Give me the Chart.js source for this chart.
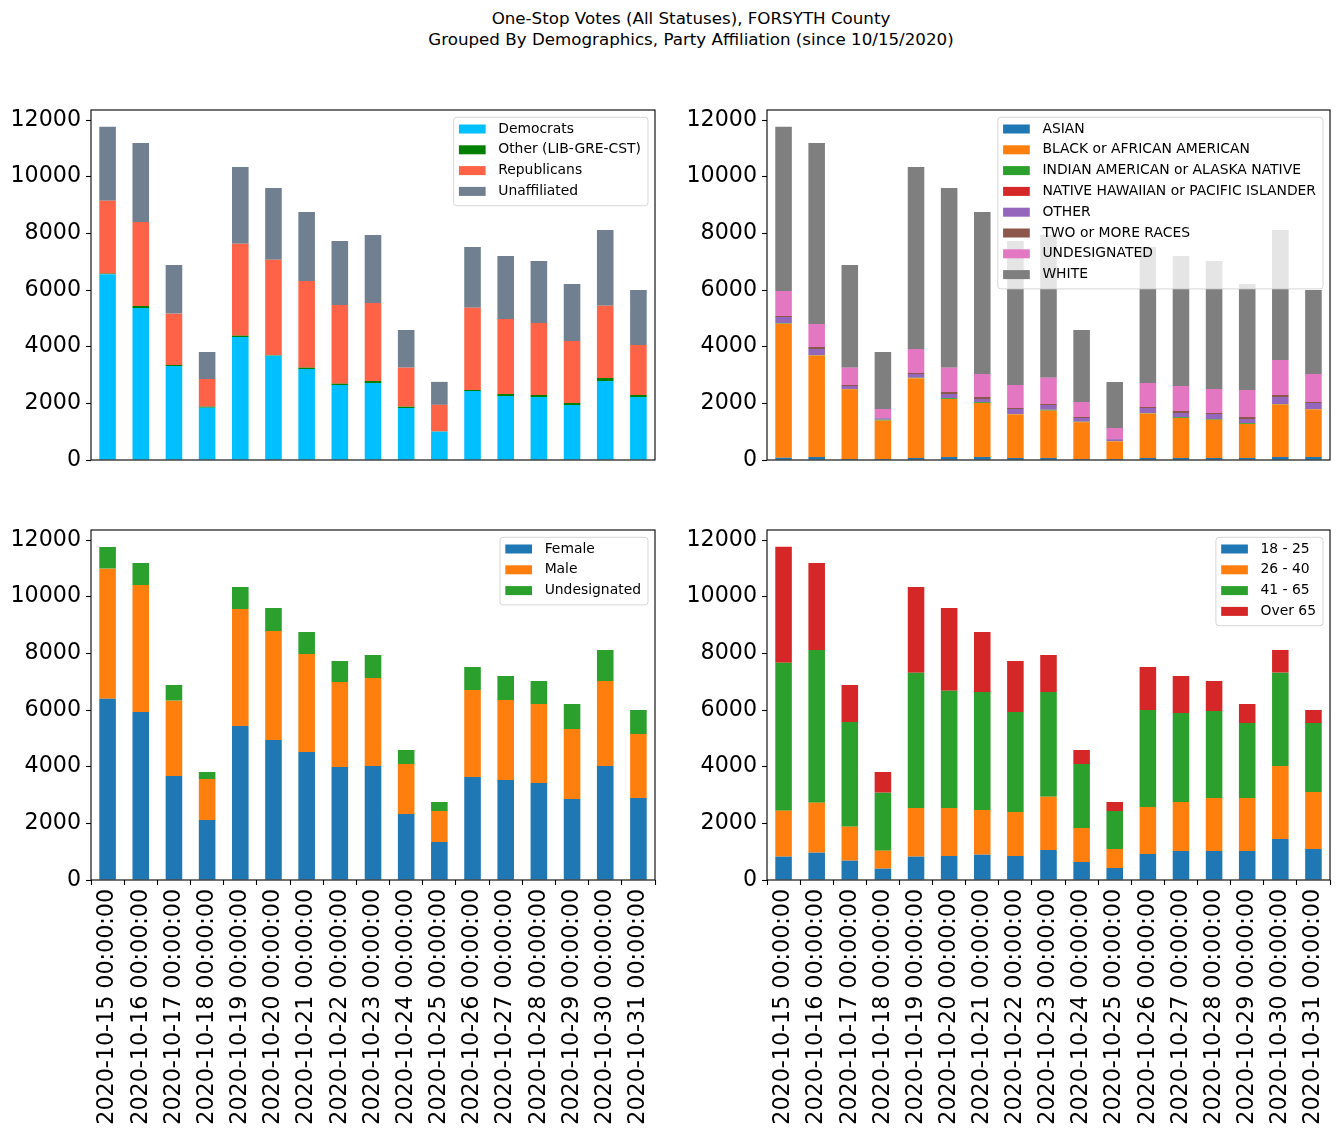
<!DOCTYPE html>
<html>
<head>
<meta charset="utf-8">
<script src="https://cdn.jsdelivr.net/npm/chart.js@4.4.0/dist/chart.umd.min.js"></script>
<style>
  body { margin: 0; background: #fff; width: 1340px; height: 1137px; position: relative; overflow: hidden; font-family: "DejaVu Sans", sans-serif; }
  #title { position: absolute; top: 8px; left: 21px; width: 1340px; text-align: center; font-size: 16.7px; line-height: 21px; color: #000; }
  canvas { position: absolute; }
</style>
</head>
<body>
<div id="title">One-Stop Votes (All Statuses), FORSYTH County<br>Grouped By Demographics, Party Affiliation (since 10/15/2020)</div>
<canvas id="party" width="670" height="370" style="left:0;top:100px"></canvas>
<canvas id="race" width="670" height="370" style="left:670px;top:100px"></canvas>
<canvas id="gender" width="670" height="617" style="left:0;top:520px"></canvas>
<canvas id="age" width="670" height="617" style="left:670px;top:520px"></canvas>
<script>
const days = [
  "2020-10-15 00:00:00", "2020-10-16 00:00:00", "2020-10-17 00:00:00", "2020-10-18 00:00:00",
  "2020-10-19 00:00:00", "2020-10-20 00:00:00", "2020-10-21 00:00:00", "2020-10-22 00:00:00",
  "2020-10-23 00:00:00", "2020-10-24 00:00:00", "2020-10-25 00:00:00", "2020-10-26 00:00:00",
  "2020-10-27 00:00:00", "2020-10-28 00:00:00", "2020-10-29 00:00:00", "2020-10-30 00:00:00",
  "2020-10-31 00:00:00"
];
const yTicks = [0, 2000, 4000, 6000, 8000, 10000, 12000];

// party affiliation
const democrats    = [6560, 5365, 3318, 1847, 4341, 3682, 3212, 2647, 2718, 1835, 1000, 2435, 2259, 2224, 1941, 2788, 2224];
const otherParty   = [17, 70, 35, 35, 47, 15, 47, 47, 70, 47, 5, 36, 70, 70, 71, 106, 70];
const republicans  = [2576, 2965, 1812, 977, 3247, 3374, 3059, 2777, 2753, 1377, 941, 2906, 2648, 2541, 2188, 2553, 1765];
const unaffiliated = [2612, 2789, 1718, 953, 2706, 2529, 2435, 2259, 2400, 1329, 812, 2141, 2223, 2189, 2012, 2671, 1941];

// race
const asian      = [80, 106, 35, 35, 70, 106, 106, 70, 70, 35, 35, 70, 70, 70, 70, 106, 106];
const black      = [4730, 3582, 2459, 1356, 2818, 2047, 1906, 1540, 1671, 1300, 622, 1570, 1413, 1347, 1201, 1850, 1680];
const indian     = [20, 15, 10, 30, 15, 30, 30, 10, 30, 15, 12, 14, 30, 25, 30, 15, 10];
const hawaiian   = [5, 3, 2, 3, 3, 5, 5, 4, 5, 3, 2, 5, 5, 5, 5, 5, 4];
const otherRace  = [212, 212, 106, 48, 129, 141, 106, 176, 165, 129, 65, 176, 141, 177, 141, 248, 212];
const twoOrMore  = [35, 70, 35, 10, 36, 71, 71, 35, 35, 36, 5, 36, 70, 35, 71, 70, 35];
const undesRace  = [883, 812, 612, 318, 847, 859, 811, 812, 930, 529, 388, 847, 883, 847, 953, 1235, 988];
const white      = [5800, 6389, 3624, 2012, 6423, 6341, 5718, 5083, 5035, 2541, 1624, 4800, 4588, 4518, 3741, 4589, 2965];

// gender
const female      = [6400, 5930, 3671, 2118, 5435, 4941, 4518, 3988, 4024, 2329, 1341, 3635, 3530, 3424, 2859, 4024, 2894];
const male        = [4589, 4482, 2659, 1447, 4130, 3847, 3459, 3000, 3106, 1765, 1094, 3071, 2823, 2788, 2471, 3000, 2259];
const undesGender = [764, 777, 553, 247, 776, 812, 776, 742, 811, 494, 318, 812, 847, 812, 882, 1094, 847];

// age
const age18to25 = [824, 965, 682, 400, 824, 847, 894, 847, 1059, 635, 424, 918, 1024, 1024, 1024, 1447, 1094];
const age26to40 = [1623, 1764, 1200, 635, 1717, 1694, 1577, 1553, 1882, 1200, 670, 1658, 1729, 1870, 1870, 2577, 2012];
const age41to65 = [5224, 5389, 3695, 2047, 4777, 4141, 4164, 3530, 3694, 2259, 1341, 3424, 3141, 3071, 2647, 3294, 2435];
const over65    = [4094, 3071, 1306, 730, 3023, 2918, 2118, 1800, 1306, 494, 318, 1518, 1306, 1059, 671, 800, 459];

const tab10 = ["#1f77b4", "#ff7f0e", "#2ca02c", "#d62728", "#9467bd", "#8c564b", "#e377c2", "#7f7f7f"];

Chart.defaults.color = "#000";
Chart.defaults.font.family = "'DejaVu Sans', sans-serif";

// box round the plot area, like matplotlib spines
const frame = {
  id: "frame",
  afterDraw(chart) {
    const a = chart.chartArea, ctx = chart.ctx;
    ctx.save();
    ctx.strokeStyle = "#000";
    ctx.lineWidth = 1.1;
    ctx.strokeRect(a.left, a.top, a.right - a.left, a.bottom - a.top);
    ctx.restore();
  }
};

// legend inside the top right corner of the axes
const boxLegend = {
  id: "boxLegend",
  afterDraw(chart) {
    const a = chart.chartArea, ctx = chart.ctx;
    const sets = chart.data.datasets;
    ctx.save();
    ctx.font = "13.9px 'DejaVu Sans'";
    const textW = Math.max(...sets.map(d => ctx.measureText(d.label).width));
    const rowH = 20.8;
    const w = 44.6 + textW + 7, h = sets.length * rowH + 5.2;
    const x0 = a.right - 7 - w, y0 = a.top + 7.3;
    ctx.beginPath();
    ctx.roundRect(x0, y0, w, h, 3);
    ctx.fillStyle = "rgba(255,255,255,0.8)";
    ctx.fill();
    ctx.strokeStyle = "rgba(204,204,204,0.8)";
    ctx.lineWidth = 1;
    ctx.stroke();
    ctx.textBaseline = "middle";
    sets.forEach((d, i) => {
      const cy = y0 + 11.7 + i * rowH;
      ctx.fillStyle = d.backgroundColor;
      ctx.fillRect(x0 + 5.3, cy - 4.5, 26.7, 9);
      ctx.fillStyle = "#000";
      ctx.fillText(d.label, x0 + 44.6, cy);
    });
    ctx.restore();
  }
};

function makeChart(id, names, series, colors, showX, yWidth, padRight) {
  return new Chart(document.getElementById(id), {
    type: "bar",
    data: {
      labels: days,
      datasets: names.map((n, i) => ({
        label: n,
        data: series[i],
        backgroundColor: colors[i],
        borderWidth: 0,
        barPercentage: 0.5,
        categoryPercentage: 1
      }))
    },
    options: {
      responsive: false,
      animation: false,
      layout: { padding: { top: 10, right: padRight, bottom: showX ? 0 : 10, left: 0 } },
      plugins: { legend: { display: false }, tooltip: { enabled: false } },
      scales: {
        x: {
          stacked: true,
          display: showX,
          afterFit: s => { s.height = showX ? 257 : 0; s.paddingLeft = 0; s.paddingRight = 0; },
          grid: { drawOnChartArea: false, tickLength: 5, tickColor: "#000", tickWidth: 1.1 },
          border: { display: false },
          ticks: { minRotation: 90, maxRotation: 90, autoSkip: false, padding: 4, font: { size: 22.2 } }
        },
        y: {
          stacked: true,
          min: 0,
          max: 12353,
          afterFit: s => { s.width = yWidth; s.paddingTop = 0; s.paddingBottom = 0; },
          afterBuildTicks: s => { s.ticks = yTicks.map(v => ({ value: v })); },
          grid: { drawOnChartArea: false, tickLength: 5, tickColor: "#000", tickWidth: 1.1 },
          border: { display: false },
          ticks: { padding: 5, font: { size: 22.2 }, callback: v => String(v) }
        }
      }
    },
    plugins: [frame, boxLegend]
  });
}

makeChart("party",
  ["Democrats", "Other (LIB-GRE-CST)", "Republicans", "Unaffiliated"],
  [democrats, otherParty, republicans, unaffiliated],
  ["#00bfff", "#008000", "#ff6347", "#708090"], false, 91, 15);

makeChart("race",
  ["ASIAN", "BLACK or AFRICAN AMERICAN", "INDIAN AMERICAN or ALASKA NATIVE", "NATIVE HAWAIIAN or PACIFIC ISLANDER",
   "OTHER", "TWO or MORE RACES", "UNDESIGNATED", "WHITE"],
  [asian, black, indian, hawaiian, otherRace, twoOrMore, undesRace, white],
  tab10, false, 97, 10);

makeChart("gender",
  ["Female", "Male", "Undesignated"],
  [female, male, undesGender],
  tab10.slice(0, 3), true, 91, 15);

makeChart("age",
  ["18 - 25", "26 - 40", "41 - 65", "Over 65"],
  [age18to25, age26to40, age41to65, over65],
  tab10.slice(0, 4), true, 97, 10);
</script>
</body>
</html>
